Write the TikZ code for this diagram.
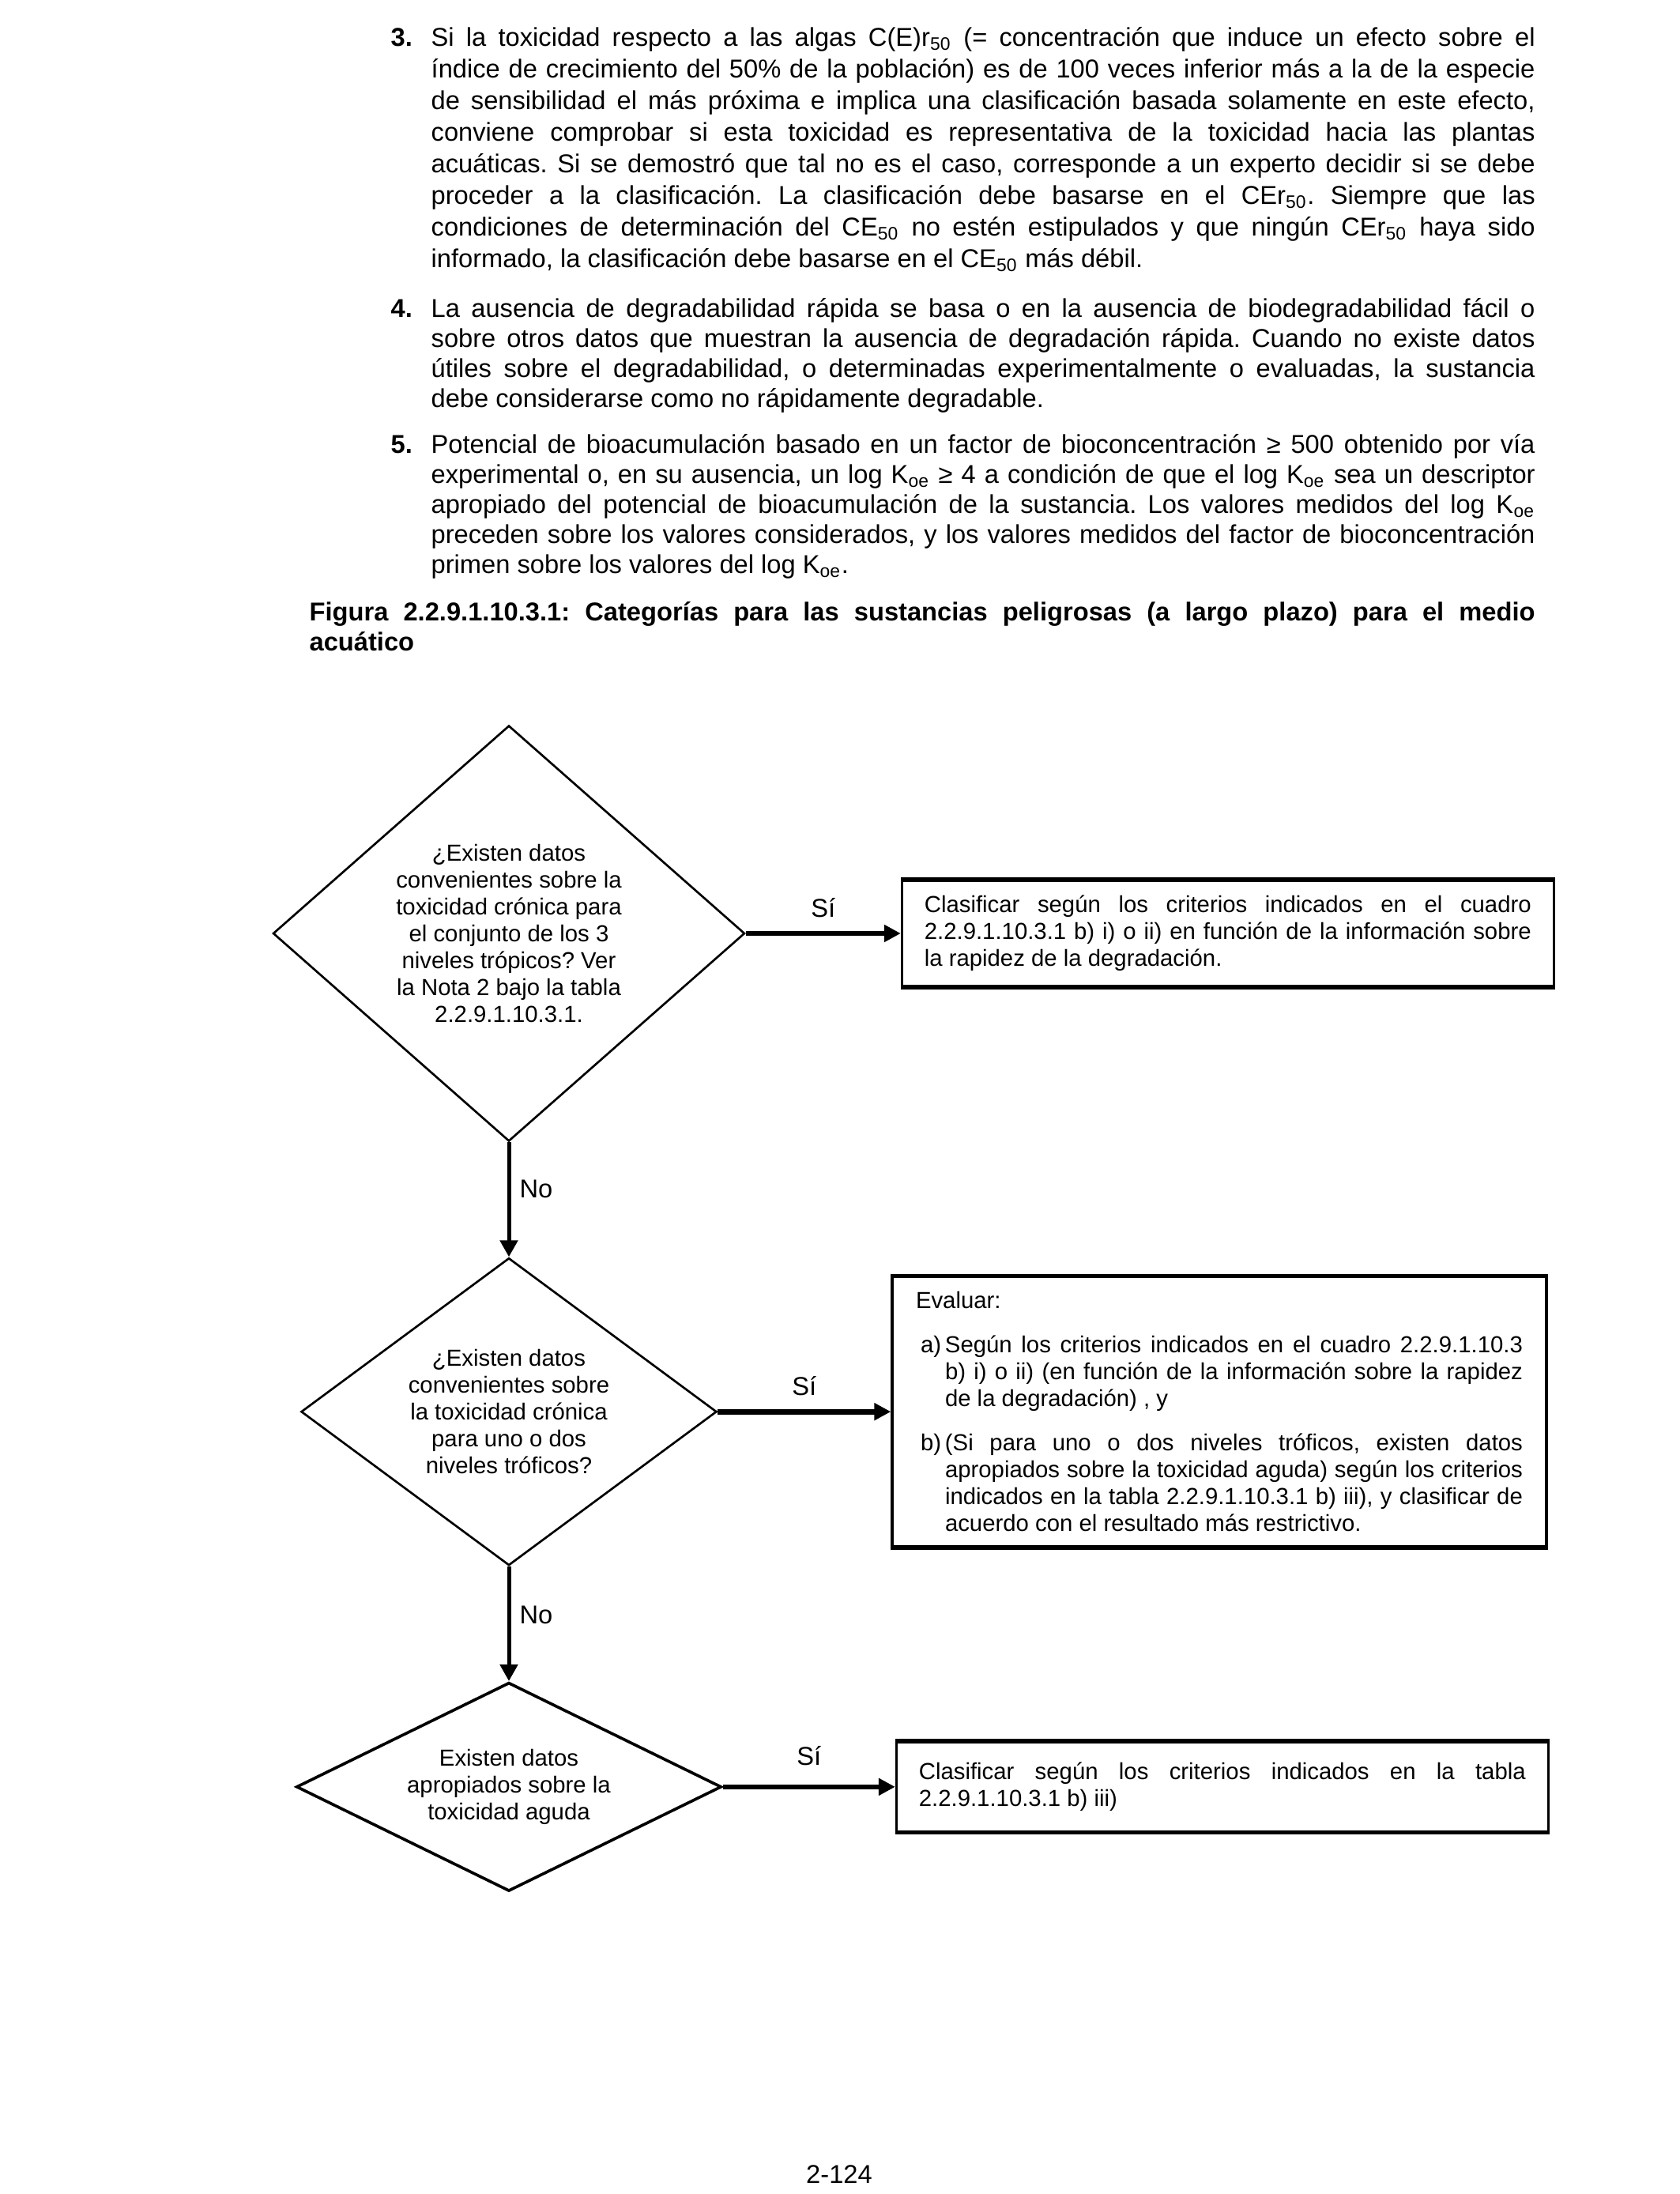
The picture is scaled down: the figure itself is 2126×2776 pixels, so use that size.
\documentclass[tikz,border=0pt]{standalone}
\usepackage{fontspec}
\setmainfont{Liberation Sans}
\usetikzlibrary{shapes.geometric,arrows.meta,positioning}
\newcommand{\bodyfont}{\fontsize{9.8}{11.4}\selectfont}
\newcommand{\flowfont}{\fontsize{8.8}{10.2}\selectfont}
\newcommand{\Koe}{K\textsubscript{oe}}
\hyphenpenalty=10000
\tolerance=10000
\frenchspacing

\begin{document}
\begin{tikzpicture}[x=0.3pt,y=-0.3pt,node distance=43.5pt,
  question/.style={diamond,draw,line width=0.8pt,inner sep=0pt,align=center,font=\flowfont},
  result/.style={rectangle,draw,line width=1pt,text width=230.4pt,inner xsep=8.5pt,inner ysep=0pt,align=justify,font=\flowfont},
  bodypar/.style={anchor=base west,inner sep=0pt,text width=419.1pt,align=justify,font=\bodyfont},
  parnum/.style={anchor=base west,inner sep=0pt,font=\bodyfont\bfseries},
  siarrow/.style={-{Triangle[length=6.3pt,width=6.3pt]},line width=2pt},
  noarrow/.style={-{Triangle[length=6.3pt,width=6.6pt]},line width=1.5pt},
  answer/.style={inner sep=0pt,font=\bodyfont}]
\useasboundingbox (0,0) rectangle (2126,2776);

% notas 3 a 5
\node[parnum] (n3) at (494,58) {3.};
\node[bodypar,font=\fontsize{9.8}{12}\selectfont] (p3) at (545,58) {Si la toxicidad respecto a las algas C(E)r\textsubscript{50} (= concentración que induce un efecto sobre el\linebreak
índice de crecimiento del 50\% de la población) es de 100 veces inferior más a la de la especie\linebreak
de sensibilidad el más próxima e implica una clasificación basada solamente en este efecto,\linebreak
conviene comprobar si esta toxicidad es representativa de la toxicidad hacia las plantas\linebreak
acuáticas. Si se demostró que tal no es el caso, corresponde a un experto decidir si se debe\linebreak
proceder a la clasificación. La clasificación debe basarse en el CEr\textsubscript{50}. Siempre que las\linebreak
condiciones de determinación del CE\textsubscript{50} no estén estipulados y que ningún CEr\textsubscript{50} haya sido\linebreak
informado, la clasificación debe basarse en el CE\textsubscript{50} más débil.};
\node[parnum] (n4) at (494,401) {4.};
\node[bodypar] (p4) at (545,401) {La ausencia de degradabilidad rápida se basa o en la ausencia de biodegradabilidad fácil o\linebreak
sobre otros datos que muestran la ausencia de degradación rápida. Cuando no existe datos\linebreak
útiles sobre el degradabilidad, o determinadas experimentalmente o evaluadas, la sustancia\linebreak
debe considerarse como no rápidamente degradable.};
\node[parnum] (n5) at (494,573) {5.};
\node[bodypar] (p5) at (545,573) {Potencial de bioacumulación basado en un factor de bioconcentración ≥ 500 obtenido por vía\linebreak
experimental o, en su ausencia, un log \Koe{} ≥ 4 a condición de que el log \Koe{} sea un descriptor\linebreak
apropiado del potencial de bioacumulación de la sustancia. Los valores medidos del log \Koe\linebreak
preceden sobre los valores considerados, y los valores medidos del factor de bioconcentración\linebreak
primen sobre los valores del log \Koe.};
\node[bodypar,text width=465.3pt,font=\bodyfont\bfseries] (caption) at (391,785) {Figura 2.2.9.1.10.3.1: Categorías para las sustancias peligrosas (a largo plazo) para el medio\linebreak acuático};

% diagrama
\node[question,minimum width=179.1pt,minimum height=157.8pt,aspect=1.13] (q1) at (644,1181) {¿Existen datos\\convenientes sobre la\\toxicidad crónica para\\el conjunto de los 3\\niveles trópicos? Ver\\la Nota 2 bajo la tabla\\2.2.9.1.10.3.1.};
\node[question,below=of q1,minimum width=157.8pt,minimum height=116.7pt,aspect=1.35] (q2) {¿Existen datos\\convenientes sobre\\la toxicidad crónica\\para uno o dos\\niveles tróficos?};
\node[question,below=of q2,line width=1.1pt,minimum width=161.4pt,minimum height=79.2pt,aspect=2.04] (q3) {Existen datos\\apropiados sobre la\\toxicidad aguda};

\node[result,right=58.8pt of q1,minimum height=40.2pt] (r1) {Clasificar según los criterios indicados en el cuadro\linebreak 2.2.9.1.10.3.1 b) i) o ii) en función de la información sobre\linebreak la rapidez de la degradación.};
\node[result,right=65.7pt of q2,minimum height=102.3pt,inner xsep=9pt] (r2) {Evaluar:\par\vspace{6.6pt}
\hangindent=11.1pt\hangafter=1\noindent\makebox[11.1pt][l]{\hspace{1.8pt}a)}Según los criterios indicados en el cuadro 2.2.9.1.10.3\linebreak b) i) o ii) (en función de la información sobre la rapidez\linebreak de la degradación) , y\par\vspace{6.6pt}
\hangindent=11.1pt\hangafter=1\noindent\makebox[11.1pt][l]{\hspace{1.8pt}b)}(Si para uno o dos niveles tróficos, existen datos\linebreak apropiados sobre la toxicidad aguda) según los criterios\linebreak indicados en la tabla 2.2.9.1.10.3.1 b) iii), y clasificar de\linebreak acuerdo con el resultado más restrictivo.\par};
\node[result,right=65.4pt of q3,minimum height=33.9pt] (r3) {Clasificar según los criterios indicados en la tabla\linebreak 2.2.9.1.10.3.1 b) iii)};

\foreach \r in {r1,r2,r3}
  \draw[line width=1.4pt] (\r.north west) -- (\r.north east) (\r.south west) -- (\r.south east);

\draw[siarrow] (q1) -- node[answer,above=5pt] (si1) {Sí} (r1);
\draw[siarrow] (q2) -- node[answer,above=5pt] (si2) {Sí} (r2);
\draw[siarrow] (q3) -- node[answer,above=7pt] (si3) {Sí} (r3);
\draw[noarrow] (q1) -- node[answer,right=3.3pt,pos=0.41] (no1) {No} (q2);
\draw[noarrow] (q2) -- node[answer,right=3.3pt,pos=0.42] (no2) {No} (q3);

\node[answer,anchor=base] (pagenum) at (1062,2762) {2-124};
\end{tikzpicture}
\end{document}
